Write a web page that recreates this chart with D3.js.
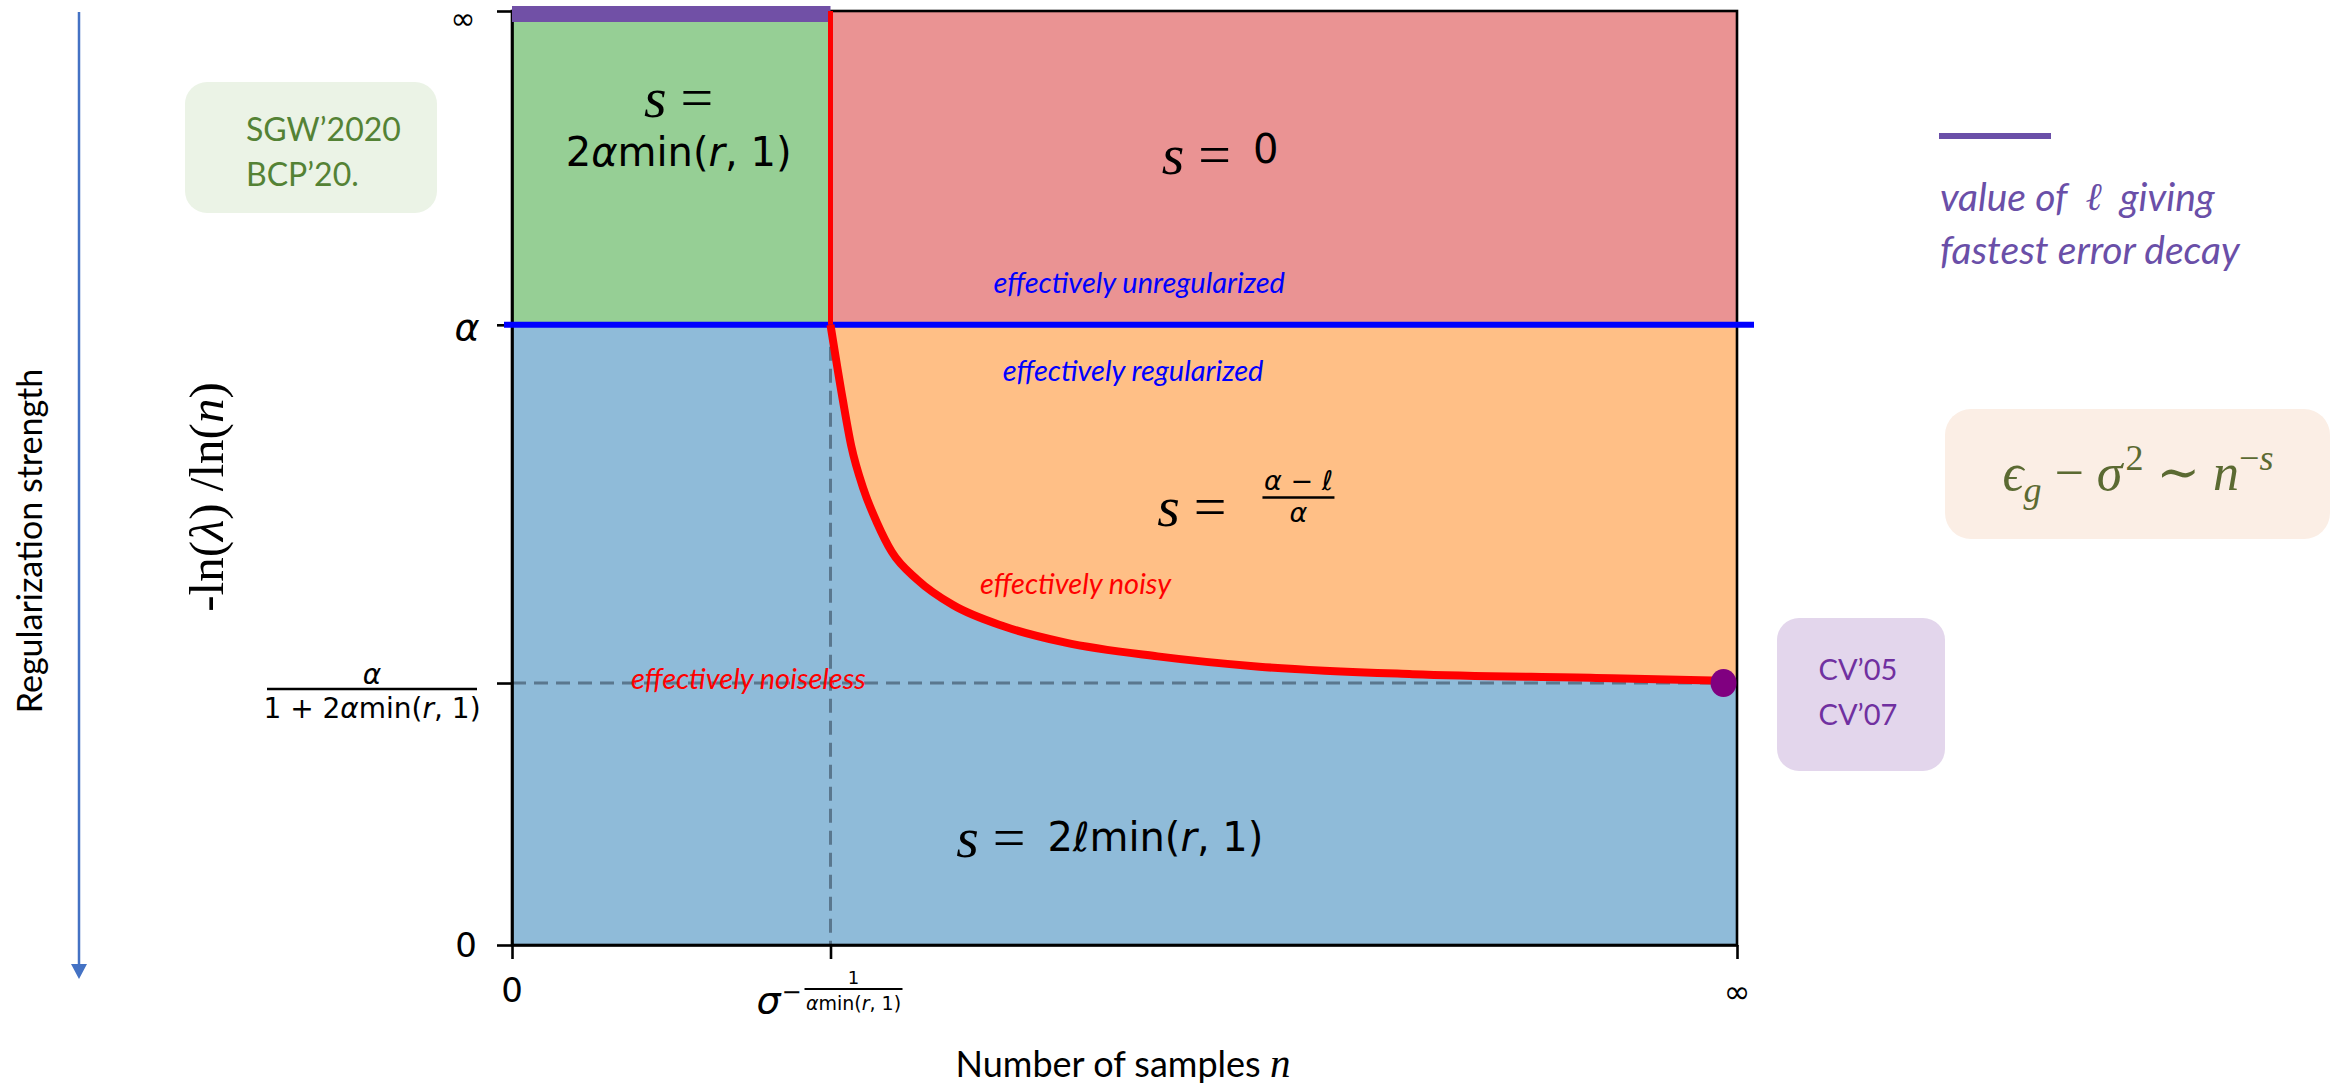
<!DOCTYPE html>
<html lang="en">
<head>
<meta charset="UTF-8">
<title>Error decay phase diagram</title>
<script src="https://d3js.org/d3.v7.min.js"></script>
<style>
  body { margin: 0; background: #fff; }
  svg text { font-family: "DejaVu Sans", sans-serif; }
</style>
</head>
<body>
<div id="chart"></div>
<script>
  const width = 2346;
  const height = 1088;

  // both axes in arbitrary units, 0 .. 100 (100 = infinity)
  const xTickVals = [0, 26, 100];          // 0, sigma^(-1/(alpha min(r,1))), inf
  const yTickVals = [0, 28.05, 66.4, 100]; // 0, alpha/(1+2 alpha min(r,1)), alpha, inf
  const nCross = 26;
  const lAlpha = 66.4;
  const lNoiseless = 28.05;

  // red boundary between the noisy and noiseless regimes
  const curveN = [26.0, 27.0, 27.7, 28.7, 29.8, 31.0, 33.1, 36.0, 40.2, 45.1, 52.7, 61.0, 73.5, 88.5, 98.9];
  const curveL = [66.4, 58.4, 53.4, 48.8, 45.2, 42.1, 39.1, 36.4, 34.1, 32.4, 30.9, 29.8, 29.0, 28.6, 28.3];

  // point where the best l sits (n -> inf)
  const optN = 98.9;
  const optL = 28.05;

  const x = d3.scaleLinear().domain([0, 100]).range([512, 1737]);
  const y = d3.scaleLinear().domain([0, 100]).range([945, 11]);

  const svg = d3.select("#chart").append("svg")
    .attr("width", width).attr("height", height);

  const calibri = "Lato, 'Open Sans', sans-serif";
  const mathSerif = "'Liberation Serif', 'DejaVu Serif', serif";

  // ---- regions ----
  const pts = curveN.map((n, i) => [n, curveL[i]]);
  const line = d3.line().x(d => x(d[0])).y(d => y(d[1]));

  svg.append("rect")  // blue: effectively regularized & noiseless
    .attr("x", x(0)).attr("y", y(lAlpha))
    .attr("width", x(100) - x(0)).attr("height", y(0) - y(lAlpha))
    .attr("fill", "#8fbbd9");

  const orangePoly = pts.concat([[100, curveL[curveL.length - 1]], [100, lAlpha], [nCross, lAlpha]]);
  svg.append("path")
    .attr("d", line(orangePoly) + "Z")
    .attr("fill", "#ffbf86");

  svg.append("rect")  // green
    .attr("x", x(0)).attr("y", y(100))
    .attr("width", x(nCross) - x(0)).attr("height", y(lAlpha) - y(100))
    .attr("fill", "#96cf95");

  svg.append("rect")  // red
    .attr("x", x(nCross)).attr("y", y(100))
    .attr("width", x(100) - x(nCross)).attr("height", y(lAlpha) - y(100))
    .attr("fill", "#ea9393");

  // dashed guides
  svg.append("line")
    .attr("x1", x(nCross)).attr("x2", x(nCross))
    .attr("y1", y(lAlpha)).attr("y2", y(0))
    .attr("stroke", "#5a778e").attr("stroke-width", 3).attr("stroke-dasharray", "14,8");
  svg.append("line")
    .attr("x1", x(0)).attr("x2", x(optN))
    .attr("y1", y(lNoiseless)).attr("y2", y(lNoiseless))
    .attr("stroke", "#5a778e").attr("stroke-width", 3).attr("stroke-dasharray", "14,8");

  // ---- axes ----
  const yAxis = d3.axisLeft(y).tickValues(yTickVals).tickSize(15).tickSizeOuter(0).tickFormat("");
  const xAxis = d3.axisBottom(x).tickValues(xTickVals).tickSize(14).tickSizeOuter(0).tickFormat("");
  const gy = svg.append("g").attr("transform", `translate(${x(0)},0)`).call(yAxis);
  const gx = svg.append("g").attr("transform", `translate(0,${y(0)})`).call(xAxis);
  [gy, gx].forEach(g => {
    g.selectAll("path, line").attr("stroke", "#000").attr("stroke-width", 2.6);
  });
  svg.append("rect")
    .attr("x", x(0)).attr("y", y(100))
    .attr("width", x(100) - x(0)).attr("height", y(0) - y(100))
    .attr("fill", "none").attr("stroke", "#000").attr("stroke-width", 2.6);

  // purple bar: best l at top
  svg.append("rect")
    .attr("x", x(0)).attr("y", y(100) - 5)
    .attr("width", x(nCross) - x(0)).attr("height", 16)
    .attr("fill", "#7150a6");

  // blue alpha line
  svg.append("line")
    .attr("x1", x(0) - 8).attr("x2", x(100) + 17)
    .attr("y1", y(lAlpha)).attr("y2", y(lAlpha))
    .attr("stroke", "#0000ff").attr("stroke-width", 6);

  // red boundaries
  svg.append("line")
    .attr("x1", x(nCross)).attr("x2", x(nCross))
    .attr("y1", y(100)).attr("y2", y(lAlpha))
    .attr("stroke", "#ff0000").attr("stroke-width", 5);
  svg.append("path")
    .attr("d", d3.line().curve(d3.curveMonotoneX).x(d => x(d[0])).y(d => y(d[1]))(pts))
    .attr("fill", "none").attr("stroke", "#ff0000").attr("stroke-width", 8);

  svg.append("ellipse")
    .attr("cx", x(optN)).attr("cy", y(optL))
    .attr("rx", 13).attr("ry", 14)
    .attr("fill", "#800080");

  // ---- tick labels ----
  svg.append("text").attr("x", 463).attr("y", 18)
    .attr("text-anchor", "middle").attr("dominant-baseline", "central")
    .style("font-size", "30px").text("∞");
  svg.append("text").attr("x", 467).attr("y", y(lAlpha) + 2)
    .attr("text-anchor", "middle").attr("dominant-baseline", "central")
    .style("font-size", "38px").style("font-style", "italic").text("α");
  svg.append("text").attr("x", 466).attr("y", y(0))
    .attr("text-anchor", "middle").attr("dominant-baseline", "central")
    .style("font-size", "34px").text("0");

  // alpha / (1 + 2 alpha min(r,1))
  const fy = y(lNoiseless) + 6;
  svg.append("text").attr("x", 372).attr("y", fy - 15)
    .attr("text-anchor", "middle").attr("dominant-baseline", "central")
    .style("font-size", "28px").style("font-style", "italic").text("α");
  svg.append("line").attr("x1", 267).attr("x2", 477).attr("y1", fy).attr("y2", fy)
    .attr("stroke", "#000").attr("stroke-width", 2.5);
  const den = svg.append("text").attr("x", 372).attr("y", fy + 19)
    .attr("text-anchor", "middle").attr("dominant-baseline", "central")
    .style("font-size", "28px");
  den.append("tspan").text("1 + 2");
  den.append("tspan").style("font-style", "italic").text("α");
  den.append("tspan").text("min(");
  den.append("tspan").style("font-style", "italic").text("r");
  den.append("tspan").text(", 1)");

  svg.append("text").attr("x", x(0)).attr("y", 990)
    .attr("text-anchor", "middle").attr("dominant-baseline", "central")
    .style("font-size", "34px").text("0");
  svg.append("text").attr("x", x(100)).attr("y", 992)
    .attr("text-anchor", "middle").attr("dominant-baseline", "central")
    .style("font-size", "32px").text("∞");

  // sigma^(-1/(alpha min(r,1)))
  const sx = x(nCross);
  svg.append("text").attr("x", sx - 62).attr("y", 1000)
    .attr("text-anchor", "middle").attr("dominant-baseline", "central")
    .style("font-size", "38px").style("font-style", "italic").text("σ");
  svg.append("text").attr("x", sx - 39).attr("y", 992)
    .attr("text-anchor", "middle").attr("dominant-baseline", "central")
    .style("font-size", "24px").text("−");
  svg.append("text").attr("x", sx + 23).attr("y", 977)
    .attr("text-anchor", "middle").attr("dominant-baseline", "central")
    .style("font-size", "18px").text("1");
  svg.append("line").attr("x1", sx - 26).attr("x2", sx + 72).attr("y1", 989).attr("y2", 989)
    .attr("stroke", "#000").attr("stroke-width", 2);
  const sden = svg.append("text").attr("x", sx + 23).attr("y", 1003)
    .attr("text-anchor", "middle").attr("dominant-baseline", "central")
    .style("font-size", "19px");
  sden.append("tspan").style("font-style", "italic").text("α");
  sden.append("tspan").text("min(");
  sden.append("tspan").style("font-style", "italic").text("r");
  sden.append("tspan").text(", 1)");

  // ---- axis titles ----
  const xt = svg.append("text").attr("x", 1123).attr("y", 1063)
    .attr("text-anchor", "middle").attr("dominant-baseline", "central")
    .style("font-family", calibri).style("font-size", "36px");
  xt.append("tspan").text("Number of samples ");
  xt.append("tspan").style("font-family", mathSerif).style("font-style", "italic").style("font-size", "41px").text("n");

  const yt = svg.append("text")
    .attr("transform", "translate(206,497) rotate(-90)")
    .attr("text-anchor", "middle").attr("dominant-baseline", "central")
    .style("font-family", mathSerif).style("font-size", "49px");
  yt.append("tspan").text("-ln(");
  yt.append("tspan").style("font-style", "italic").text("λ");
  yt.append("tspan").text(") /ln(");
  yt.append("tspan").style("font-style", "italic").text("n");
  yt.append("tspan").text(")");

  svg.append("text")
    .attr("transform", "translate(28,541) rotate(-90)")
    .attr("text-anchor", "middle").attr("dominant-baseline", "central")
    .style("font-family", calibri).style("font-size", "34px").text("Regularization strength");

  // downward arrow
  svg.append("line").attr("x1", 79).attr("x2", 79).attr("y1", 12).attr("y2", 966)
    .attr("stroke", "#4472c4").attr("stroke-width", 2.5);
  svg.append("path").attr("d", "M71,964 L87,964 L79,979 Z").attr("fill", "#4472c4");

  // ---- region labels ----
  function sEq(g, cx, cy) {
    const t = g.append("text").attr("x", cx).attr("y", cy)
      .attr("text-anchor", "middle").attr("dominant-baseline", "central")
      .style("font-size", "58px");
    t.append("tspan").style("font-family", mathSerif).style("font-style", "italic").text("s");
    t.append("tspan").attr("dx", 14).style("font-family", mathSerif).text("=");
    return t;
  }

  sEq(svg, x(13.6), y(90.8));
  const g1 = svg.append("text").attr("x", x(13.6)).attr("y", y(84.9))
    .attr("text-anchor", "middle").attr("dominant-baseline", "central")
    .style("font-size", "40px");
  g1.append("tspan").text("2");
  g1.append("tspan").style("font-style", "italic").text("α");
  g1.append("tspan").text("min(");
  g1.append("tspan").style("font-style", "italic").text("r");
  g1.append("tspan").text(", 1)");

  const r1 = sEq(svg, x(57.8), y(84.7));
  r1.append("tspan").attr("dx", 22).style("font-size", "40px").attr("dy", -5).text("0");

  const b1 = sEq(svg, x(48.8), y(11.6));
  b1.append("tspan").attr("dx", 22).style("font-size", "40px").text("2ℓmin(");
  b1.append("tspan").style("font-size", "40px").style("font-style", "italic").text("r");
  b1.append("tspan").style("font-size", "40px").text(", 1)");

  sEq(svg, x(55.5), y(47.0));
  const fx = x(64.2), fb = y(47.9);
  svg.append("text").attr("x", fx).attr("y", fb - 17)
    .attr("text-anchor", "middle").attr("dominant-baseline", "central")
    .style("font-size", "27px").style("font-style", "italic").text("α − ℓ");
  svg.append("line").attr("x1", fx - 36).attr("x2", fx + 36).attr("y1", fb).attr("y2", fb)
    .attr("stroke", "#000").attr("stroke-width", 2.5);
  svg.append("text").attr("x", fx).attr("y", fb + 15)
    .attr("text-anchor", "middle").attr("dominant-baseline", "central")
    .style("font-size", "27px").style("font-style", "italic").text("α");

  const notes = [
    { t: "effectively unregularized", n: 51.2, l: 71.0, c: "#0000ff" },
    { t: "effectively regularized", n: 50.7, l: 61.6, c: "#0000ff" },
    { t: "effectively noisy", n: 46.0, l: 38.8, c: "#ff0000" },
    { t: "effectively noiseless", n: 19.3, l: 28.6, c: "#ff0000" }
  ];
  svg.selectAll(".note").data(notes).enter().append("text")
    .attr("class", "note")
    .attr("x", d => x(d.n)).attr("y", d => y(d.l))
    .attr("text-anchor", "middle").attr("dominant-baseline", "central")
    .style("font-family", calibri).style("font-style", "italic").style("font-size", "29px")
    .attr("fill", d => d.c).text(d => d.t);

  // ---- side boxes ----
  svg.append("rect").attr("x", 185).attr("y", 82).attr("width", 252).attr("height", 131)
    .attr("rx", 22).attr("fill", "#ebf3e6");
  svg.append("text").attr("x", 246).attr("y", 128).attr("dominant-baseline", "central")
    .style("font-family", calibri).style("font-size", "32px").attr("fill", "#548235").text("SGW’2020");
  svg.append("text").attr("x", 246).attr("y", 173).attr("dominant-baseline", "central")
    .style("font-family", calibri).style("font-size", "32px").attr("fill", "#548235").text("BCP’20.");

  svg.append("rect").attr("x", 1777).attr("y", 618).attr("width", 168).attr("height", 153)
    .attr("rx", 22).attr("fill", "#e3d6ec");
  svg.append("text").attr("x", 1858).attr("y", 668).attr("text-anchor", "middle").attr("dominant-baseline", "central")
    .style("font-family", calibri).style("font-size", "29px").attr("fill", "#7030a0").text("CV’05");
  svg.append("text").attr("x", 1858).attr("y", 713).attr("text-anchor", "middle").attr("dominant-baseline", "central")
    .style("font-family", calibri).style("font-size", "29px").attr("fill", "#7030a0").text("CV’07");

  svg.append("rect").attr("x", 1945).attr("y", 409).attr("width", 385).attr("height", 130)
    .attr("rx", 26).attr("fill", "#fbeee5");
  const eq = svg.append("text").attr("x", 2138).attr("y", 490).attr("text-anchor", "middle")
    .style("font-family", mathSerif).style("font-size", "52px").attr("fill", "#5b6a32");
  eq.append("tspan").style("font-style", "italic").text("ϵ");
  eq.append("tspan").attr("dy", 12).style("font-style", "italic").style("font-size", "36px").text("g");
  eq.append("tspan").attr("dy", -12).text(" − ");
  eq.append("tspan").style("font-style", "italic").text("σ");
  eq.append("tspan").attr("dx", 3).attr("dy", -20).style("font-size", "36px").text("2");
  eq.append("tspan").attr("dy", 20).text(" ∼ ");
  eq.append("tspan").style("font-style", "italic").text("n");
  eq.append("tspan").attr("dy", -20).style("font-size", "36px").text("−");
  eq.append("tspan").style("font-size", "36px").style("font-style", "italic").text("s");

  // legend for the purple bar
  svg.append("line").attr("x1", 1939).attr("x2", 2051).attr("y1", 136).attr("y2", 136)
    .attr("stroke", "#6a4fa8").attr("stroke-width", 6);
  const lg1 = svg.append("text").attr("x", 1940).attr("y", 196).attr("dominant-baseline", "central")
    .style("font-family", calibri).style("font-style", "italic").style("font-size", "39px").attr("fill", "#6a4fa8")
    .attr("xml:space", "preserve");
  lg1.append("tspan").text("value of");
  lg1.append("tspan").attr("dx", 18).style("font-family", mathSerif).text("ℓ");
  lg1.append("tspan").attr("dx", 18).text("giving");
  svg.append("text").attr("x", 1940).attr("y", 249).attr("dominant-baseline", "central")
    .style("font-family", calibri).style("font-style", "italic").style("font-size", "39px").attr("fill", "#6a4fa8")
    .text("fastest error decay");
</script>
</body>
</html>
